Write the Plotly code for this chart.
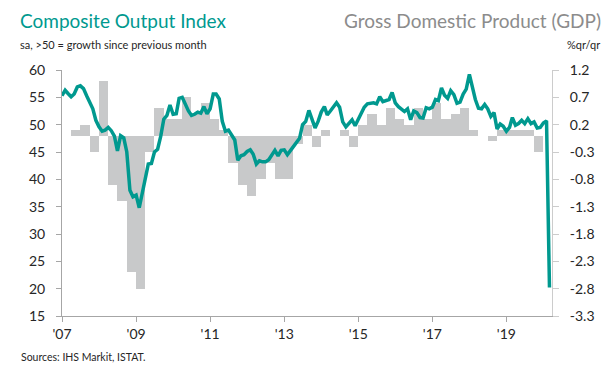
import pandas as pd
import plotly.graph_objects as go

# Composite Output Index (monthly, Jan 2007 - Mar 2020)
pmi_start = "2007-01-01"
pmi = [
    55.3, 56.3, 55.7, 55.1, 55.6, 56.9, 57.1, 56.6, 55.3, 54.2, 52.9, 50.8,
    49.6, 48.8, 49.0, 49.5, 48.9, 47.9, 45.2, 48.0, 47.6, 45.0, 38.0, 36.8,
    37.1, 34.8, 37.5, 40.5, 42.8, 42.9, 45.0, 45.5, 47.9, 51.0, 51.7, 53.6,
    51.9, 52.0, 54.8, 55.0, 53.8, 52.5, 51.7, 51.9, 52.3, 52.1, 53.3, 52.0,
    52.9, 55.6, 55.6, 54.7, 50.6, 48.8, 49.0, 48.1, 47.2, 43.5, 44.3, 44.5,
    45.1, 45.4, 44.6, 42.8, 43.4, 43.2, 43.2, 43.6, 44.4, 45.3, 44.3, 45.3,
    45.4, 44.5, 45.2, 46.0, 46.6, 47.5, 50.0, 50.6, 52.6, 50.9, 49.4, 50.6,
    52.3, 53.3, 51.8, 52.5, 53.2, 54.0, 53.2, 50.5, 49.6, 50.3, 50.9, 49.8,
    50.9, 52.0, 53.2, 53.8, 53.9, 54.0, 53.8, 55.1, 54.2, 54.4, 54.6, 55.9,
    54.0, 53.3, 52.9, 52.4, 52.9, 50.9, 52.5, 52.2, 51.3, 51.2, 53.1, 52.9,
    53.2, 54.6, 54.4, 56.7, 55.4, 54.8, 56.2, 55.5, 53.9, 54.1, 55.6, 56.5,
    59.2, 56.8, 54.6, 53.0, 52.9, 53.7, 52.9, 51.5, 52.2, 49.2, 50.1, 49.7,
    48.8, 49.5, 51.3, 49.9, 50.2, 50.8, 50.2, 51.1, 50.2, 50.5, 49.4, 49.5,
    50.3, 50.7, 20.2,
]

# GDP %q/q (quarterly, 2007Q1 - 2019Q4)
gdp_start = "2007-01-01"
gdp = [
    0.0, 0.1, 0.2, -0.3,
    1.0, -0.9, -1.2, -2.5,
    -2.8, -0.3, 0.5, 0.3,
    0.3, 0.7, 0.4, 0.6,
    0.3, 0.1, -0.5, -0.9,
    -1.1, -0.8, -0.5, -0.8,
    -0.8, -0.15, 0.2, -0.2,
    0.1, 0.0, 0.1, -0.2,
    0.2, 0.4, 0.2, 0.5,
    0.3, 0.2, 0.5, 0.3,
    0.6, 0.3, 0.4, 0.5,
    0.1, 0.0, -0.1, 0.1,
    0.1, 0.1, 0.1, -0.3,
]

tick_dates = ["2007-01-01", "2009-01-01", "2011-01-01", "2013-01-01",
              "2015-01-01", "2017-01-01", "2019-01-01"]
tick_text = ["'07", "'09", "'11", "'13", "'15", "'17", "'19"]
left_ticks = [15, 20, 25, 30, 35, 40, 45, 50, 55, 60]
right_ticks = [-3.3, -2.8, -2.3, -1.8, -1.3, -0.8, -0.3, 0.2, 0.7, 1.2]

months = pd.date_range(pmi_start, periods=len(pmi), freq="MS")
quarters = pd.date_range(gdp_start, periods=len(gdp), freq="QS")
q_width = [((q + pd.offsets.QuarterBegin(1, startingMonth=1)) - q).total_seconds() * 1000 for q in quarters]

TEAL = "#00998f"
GREY_BAR = "#c8c9ca"
AX = "#a6a6a6"
TXT = "#262626"
FONT = "Lato"

fig = go.Figure()
fig.add_trace(go.Bar(
    x=quarters, y=gdp, width=q_width, offset=0,
    marker=dict(color=GREY_BAR, line=dict(width=0)),
    yaxis="y", name="GDP", showlegend=False,
))
fig.add_trace(go.Scatter(
    x=months, y=pmi, mode="lines",
    line=dict(color=TEAL, width=3.5),
    yaxis="y2", name="Composite", showlegend=False,
))

fig.update_layout(
    width=615, height=369,
    margin=dict(l=62, r=63, t=70, b=53),
    paper_bgcolor="white", plot_bgcolor="white",
    font=dict(family=FONT, color=TXT, size=14),
    bargap=0,
    xaxis=dict(
        range=["2007-01-01", "2020-03-26"],
        tickvals=tick_dates, ticktext=tick_text,
        showgrid=False, zeroline=False,
        showline=True, linecolor=AX, linewidth=1,
        ticks="outside", ticklen=5, tickcolor=AX,
        tickfont=dict(size=14, color=TXT, family=FONT),
    ),
    yaxis=dict(
        side="right", range=[-3.3, 1.2], tickvals=right_ticks,
        ticktext=[f"{v:.1f}" for v in right_ticks],
        showgrid=False, zeroline=False,
        showline=True, linecolor="#cccccc", linewidth=1,
        ticks="outside", ticklen=6, tickcolor="#cccccc",
        ticklabelstandoff=8,
        tickfont=dict(size=14, color=TXT, family=FONT),
    ),
    yaxis2=dict(
        side="left", overlaying="y", range=[15, 60], tickvals=left_ticks,
        showgrid=False, zeroline=False,
        showline=True, linecolor=AX, linewidth=1,
        ticks="outside", ticklen=5, tickcolor=AX,
        ticklabelstandoff=8,
        tickfont=dict(size=14, color=TXT, family=FONT),
    ),
)

def px_x(px):
    return (px - 62) / 490.0

def px_y(py):
    return (316 - py) / 246.0

annos = [
    dict(text="Composite Output Index", x=px_x(18), y=px_y(21), xanchor="left",
         font=dict(size=19, color=TEAL, family=FONT)),
    dict(text="Gross Domestic Product (GDP)", x=px_x(603), y=px_y(21), xanchor="right",
         font=dict(size=19, color="#8c8c8c", family=FONT)),
    dict(text="sa, >50 = growth since previous month", x=px_x(18), y=px_y(44), xanchor="left",
         font=dict(size=11, color=TXT, family=FONT)),
    dict(text="%qr/qr", x=px_x(602), y=px_y(44), xanchor="right",
         font=dict(size=11, color=TXT, family=FONT)),
    dict(text="Sources: IHS Markit, ISTAT.", x=px_x(19), y=px_y(357), xanchor="left",
         font=dict(size=10.5, color=TXT, family=FONT)),
]
for a in annos:
    fig.add_annotation(xref="paper", yref="paper", showarrow=False, yanchor="middle", **a)

fig.write_html("out.html", config={"displayModeBar": False},
               post_script="document.body.style.margin='0px';")
